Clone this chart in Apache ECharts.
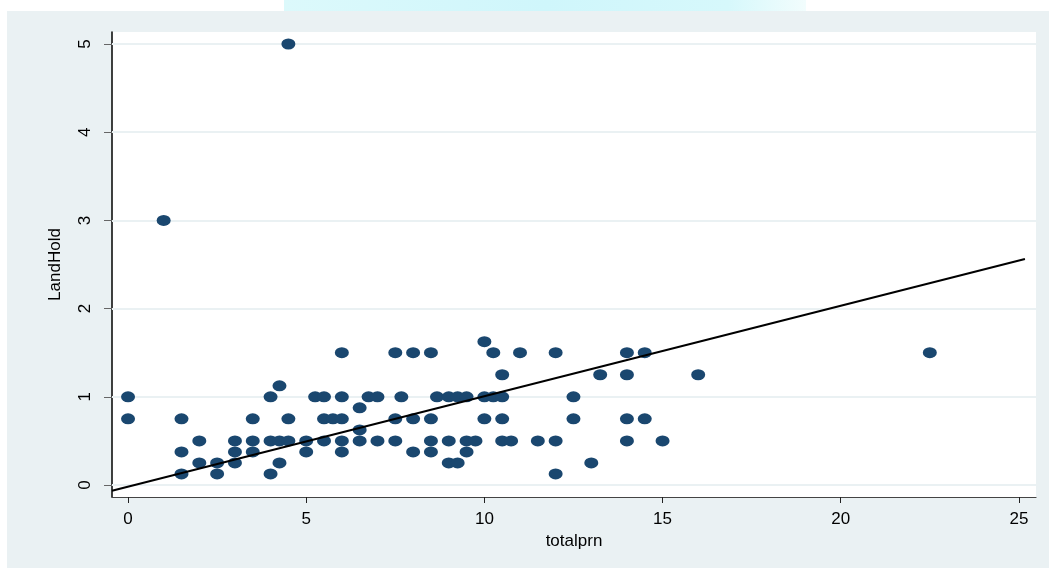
<!DOCTYPE html>
<html>
<head>
<meta charset="utf-8">
<script src="https://cdn.jsdelivr.net/npm/echarts@6/dist/echarts.min.js"></script>
<style>
html,body{margin:0;padding:0;background:#ffffff;}
#chart{width:1049px;height:568px;}
</style>
</head>
<body>
<div id="chart"></div>
<script>
// Data
const xVals = [0,0,1,1.5,1.5,1.5,2,2,2.5,2.5,3,3,3,3.5,3.5,3.5,4,4,4,4.25,4.25,4.25,4.5,4.5,4.5,5,5,5.25,5.5,5.5,5.5,5.75,6,6,6,6,6,6.5,6.5,6.5,6.75,7,7,7.5,7.5,7.5,7.67,8,8,8,8.5,8.5,8.5,8.5,8.67,9,9,9,9.25,9.25,9.5,9.5,9.5,9.75,10,10,10,10.25,10.25,10.5,10.5,10.5,10.5,10.75,11,11.5,12,12,12,12.5,12.5,13,13.25,14,14,14,14,14.5,14.5,15,16,22.5];
const yVals = [1,0.75,3,0.75,0.375,0.125,0.5,0.25,0.25,0.125,0.5,0.375,0.25,0.75,0.5,0.375,1,0.5,0.125,1.125,0.5,0.25,5,0.75,0.5,0.5,0.375,1,1,0.75,0.5,0.75,1.5,1,0.75,0.5,0.375,0.875,0.625,0.5,1,1,0.5,1.5,0.75,0.5,1,1.5,0.75,0.375,1.5,0.75,0.5,0.375,1,1,0.5,0.25,1,0.25,1,0.5,0.375,0.5,1.625,1,0.75,1.5,1,1.25,1,0.75,0.5,0.5,1.5,0.5,1.5,0.5,0.125,1,0.75,0.25,1.25,1.5,1.25,0.75,0.5,1.5,0.75,0.5,1.25,1.5];
// Fitted line endpoints
const fitX = [-0.45, 25.17];
const fitY = [-0.066, 2.562];
// Tick labels
const xTicks = [0,5,10,15,20,25];
const yTicks = [0,1,2,3,4,5];
const xName = 'totalprn';
const yName = 'LandHold';

const points = xVals.map((x,i)=>[x,yVals[i]]);
const fitLine = fitX.map((x,i)=>[x,fitY[i]]);

const chart = echarts.init(document.getElementById('chart'));
const font = 'Liberation Sans, Arial, sans-serif';
chart.setOption({
  animation:false,
  backgroundColor:'#ffffff',
  graphic:[
    {type:'rect',shape:{x:7,y:11,width:1042,height:557},style:{fill:'#eaf1f3'},z:-10},
    {type:'rect',shape:{x:284,y:0,width:522,height:11},style:{fill:new echarts.graphic.LinearGradient(0,0,1,0,[{offset:0,color:'#dcf9fb'},{offset:0.5,color:'#cff6fb'},{offset:0.85,color:'#d6f8fb'},{offset:1,color:'#f2fdfd'}])},z:-10}
  ],
  grid:{left:112,right:13,top:32,bottom:71,show:true,backgroundColor:'#ffffff',borderWidth:0},
  xAxis:{
    type:'value',min:-0.45,max:25.48,
    name:xName,nameLocation:'middle',nameGap:36,
    nameTextStyle:{color:'#000',fontSize:17,fontFamily:font},
    axisLine:{show:true,onZero:false,lineStyle:{color:'#444',width:1.2}},
    axisTick:{show:true,customValues:xTicks,length:6,lineStyle:{color:'#222'}},
    axisLabel:{customValues:xTicks,color:'#000',fontSize:17,fontFamily:font,margin:14},
    splitLine:{show:false}
  },
  yAxis:{
    type:'value',min:-0.136,max:5.136,
    name:yName,nameLocation:'middle',nameGap:48,nameRotate:90,
    nameTextStyle:{color:'#000',fontSize:17,fontFamily:font},
    axisLine:{show:true,onZero:false,lineStyle:{color:'#000',width:1.5}},
    axisTick:{show:true,customValues:yTicks,length:8,lineStyle:{color:'#666'}},
    axisLabel:{customValues:yTicks,rotate:90,color:'#000',fontSize:17,fontFamily:font,margin:18},
    splitLine:{show:false}
  },
  series:[
    {
      type:'scatter',data:[],z:1,silent:true,
      markLine:{silent:true,symbol:'none',label:{show:false},animation:false,z:1,
        lineStyle:{color:'#eaf1f3',width:2,type:'solid'},
        data:yTicks.map(v=>({yAxis:v}))}
    },
    {
      type:'scatter',data:points,symbol:'circle',symbolSize:[14,11],
      itemStyle:{color:'#1a476f',opacity:1},z:3
    },
    {
      type:'line',data:fitLine,showSymbol:false,symbol:'none',
      lineStyle:{color:'#000',width:2},z:4,clip:false
    }
  ]
});
</script>
</body>
</html>
